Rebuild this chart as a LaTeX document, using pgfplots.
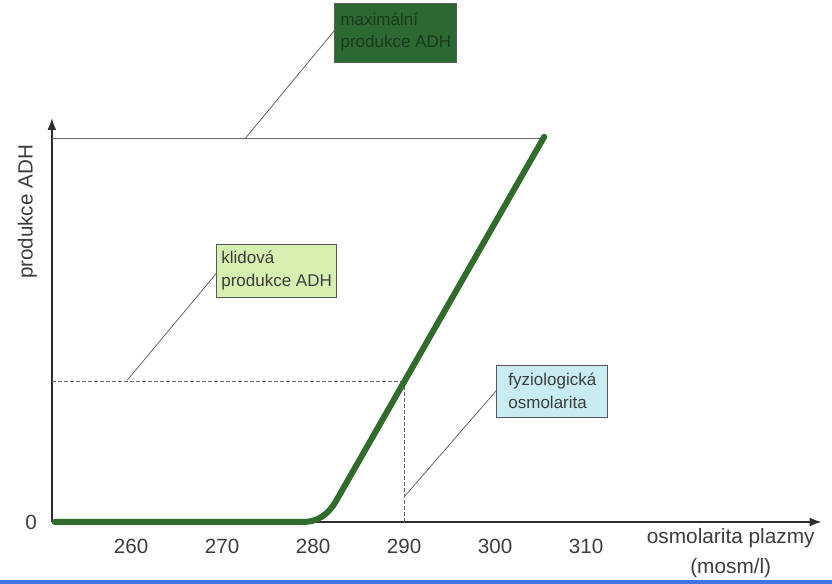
\documentclass[border=0pt]{standalone}
\usepackage{pgfplots}
\pgfplotsset{compat=1.18}
\usetikzlibrary{arrows.meta}
\usepackage{fontspec}
\setmainfont{Liberation Sans}
\definecolor{curvegreen}{RGB}{48,108,44}
\definecolor{darkbox}{RGB}{44,104,50}
\definecolor{darkboxtext}{RGB}{26,58,30}
\definecolor{lightgreenbox}{RGB}{214,240,178}
\definecolor{lightcyanbox}{RGB}{200,236,242}
\definecolor{txtgray}{RGB}{60,60,60}
\definecolor{axisdark}{RGB}{48,44,44}
\definecolor{bluebar}{RGB}{62,116,232}
\begin{document}
\begin{tikzpicture}
\begin{axis}[
  x=4.55pt, y=0.5pt,
  xmin=251.3, xmax=335.9,
  ymin=0, ymax=404,
  axis lines=left,
  axis line style={axisdark, line width=1pt, -{Latex[length=6pt,width=4.5pt]}},
  xtick={260,270,280,290,300,310},
  ytick={0},
  major tick length=0pt,
  tick label style={font=\fontsize{10.3}{12}\selectfont, text=txtgray},
  xticklabel style={yshift=-5pt},
  yticklabel style={xshift=-4pt},
  /pgf/number format/assume math mode=true,
  clip=false,
]
% guide lines
\addplot[gray!80!black, line width=0.4pt] coordinates {(251.3,384) (305.3,384)};
\addplot[gray!80!black, line width=0.4pt, dash pattern=on 2pt off 1pt] coordinates {(251.3,141) (290,141)};
\addplot[gray!80!black, line width=0.4pt, dash pattern=on 2pt off 1pt] coordinates {(290,0) (290,141)};
% leader lines
\addplot[gray!80!black, line width=0.4pt] coordinates {(272.5,383) (282.4,492)};
\addplot[gray!80!black, line width=0.4pt] coordinates {(259.6,142) (269.5,250)};
\addplot[gray!80!black, line width=0.4pt] coordinates {(290.0,25) (300.2,132)};
% ADH response curve
\addplot[curvegreen, line width=3pt, line join=round, line cap=round] coordinates {
 (251.6,0) (278.90,0) (279.46,0.33) (279.99,1.31) (280.49,2.95) (280.96,5.25)
 (281.40,8.2) (281.80,11.8) (282.19,16.1) (282.53,21) (305.4,385.2)};
% boxes
\node[draw=gray!70!black, line width=0.4pt, fill=darkbox, minimum width=61pt, minimum height=29.5pt,
      align=left, inner sep=1.5pt, text=darkboxtext,
      font=\fontsize{8.5}{11}\selectfont] at (axis cs:289.1,489.5) {maximální\\produkce ADH};
\node[draw=gray!70!black, line width=0.4pt, fill=lightgreenbox, minimum width=60pt, minimum height=26.5pt,
      align=left, inner sep=1.5pt, text=txtgray,
      font=\fontsize{8.5}{11.5}\selectfont] at (axis cs:276.0,251.5) {klidová\\produkce ADH};
\node[draw=gray!70!black, line width=0.4pt, fill=lightcyanbox, minimum width=55.5pt, minimum height=26pt,
      align=left, inner sep=1.5pt, text=txtgray,
      font=\fontsize{8.5}{11.5}\selectfont] at (axis cs:306.3,131) {fyziologická\\osmolarita};
% axis labels
\node[rotate=90, text=txtgray, font=\fontsize{10.3}{12}\selectfont] at (axis cs:248.6,310) {produkce ADH};
\node[align=center, text=txtgray, font=\fontsize{10.4}{15}\selectfont] at (axis cs:325.9,-31) {osmolarita plazmy\\(mosm/l)};
% bottom bar
\fill[bluebar] (axis cs:245.6,-62) rectangle (axis cs:337.03,-58.5);
\coordinate (BL) at (axis cs:245.6,-62);
\coordinate (TR) at (axis cs:337.03,522);
\end{axis}
\pgfresetboundingbox
\path (BL) rectangle (TR);
\end{tikzpicture}
\end{document}
